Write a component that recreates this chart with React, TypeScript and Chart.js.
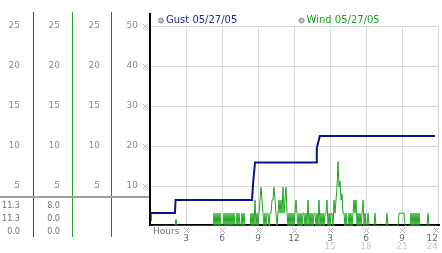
import React, { useEffect, useRef } from 'react';
import { Chart, registerables } from 'chart.js';

Chart.register(...registerables);

const FONT = '"DejaVu Sans", Verdana, sans-serif';
const NARROW_FONT = '"DejaVu Sans Condensed", "DejaVu Sans", sans-serif';

const gustLabel = 'Gust 05/27/05';
const windLabel = 'Wind 05/27/05';

// Gust (step line), hours since midnight
const gustHours = [0, 0.05, 2.08, 2.13, 8.5, 8.6, 8.75, 13.85, 13.9, 14.15, 23.75];
const gustValues = [1.5, 3.25, 3.25, 6.5, 6.5, 11, 15.9, 15.9, 19.5, 22.5, 22.5];

// Wind samples, one every 5 minutes starting at 00:05
const windStepMinutes = 5;
const windValues = [
  0, 0, 0, 0, 0, 0, 0, 0, 0, 0, 0, 0, 0, 0, 0, 0, 0, 0, 0, 0, 0, 0, 0,
  0, 0, 1.7, 0, 0, 0, 0, 0, 0, 0, 0, 0, 0, 0, 0, 0, 0, 0, 0, 0, 0, 0, 0, 0,
  0, 0, 0, 0, 0, 0, 0, 0, 0, 0, 0, 0, 0, 0, 0, 0, 3.2, 0, 3.2, 0, 3.2, 0, 3.2, 0,
  0, 0, 3.2, 0, 3.2, 0, 3.2, 0, 3.2, 0, 3.2, 0, 3.2, 0, 0, 3.2, 0, 3.2, 0, 0, 3.2, 0, 3.2, 0,
  0, 0, 0, 0, 0, 3.2, 0, 3.2, 0, 6.5, 0, 3.2, 0, 3.2, 6.5, 9.7, 6.5, 3.2, 0, 3.2, 0, 3.2, 3.2, 0,
  3.2, 3.2, 6.5, 6.5, 9.7, 6.5, 3.2, 0, 3.2, 6.5, 3.2, 6.5, 3.2, 9.7, 3.2, 6.5, 9.7, 3.2, 0, 3.2, 0, 3.2, 0, 3.2,
  0, 3.2, 6.5, 3.2, 0, 3.2, 0, 3.2, 0, 3.2, 3.2, 0, 3.2, 0, 6.5, 0, 3.2, 0, 3.2, 0, 3.2, 3.2, 0, 3.2,
  0, 6.5, 0, 3.2, 0, 3.2, 0, 3.2, 3.2, 6.5, 0, 3.2, 0, 3.2, 3.2, 0, 6.5, 3.2, 6.5, 9.7, 16.1, 9.7, 11.3, 6.5,
  8.0, 3.2, 3.2, 0, 3.2, 0, 0, 3.2, 0, 3.2, 0, 3.2, 6.5, 3.2, 6.5, 0, 3.2, 0, 3.2, 0, 3.2, 6.5, 0, 3.2,
  0, 0, 3.2, 0, 0, 0, 0, 0, 0, 3.2, 0, 0, 0, 0, 0, 0, 0, 0, 0, 0, 0, 3.2, 0, 0,
  0, 0, 0, 0, 0, 0, 0, 0, 0, 3.2, 3.2, 3.2, 3.2, 3.2, 3.2, 0, 0, 0, 0, 0, 0, 3.2, 0, 3.2,
  0, 3.2, 0, 3.2, 0, 3.2, 0, 0, 0, 0, 0, 0, 0, 0, 3.2, 0, 0, 0, 0, 0, 0, 0, 0, 0,
];

const mainTicks = [10, 20, 30, 40, 50];
const sideTicks = [5, 10, 15, 20, 25];
const xTickHours = [3, 6, 9, 12, 15, 18, 21, 24];
const xTickLabels = ['3', '6', '9', '12', '3', '6', '9', '12'];
const xTickLabels2 = ['', '', '', '', '15', '18', '21', '24'];
const xAxisTitle = 'Hours';

const gustReadout = ['11.3', '11.3', '0.0'];
const windReadout = ['8.0', '0.0', '0.0'];

const GUST_COLOR = '#10108a';
const WIND_COLOR = '#22a622';

const decorPlugin = {
  id: 'decor',
  beforeDatasetsDraw(chart: any) {
    const ctx = chart.ctx;
    const ca = chart.chartArea;
    ctx.save();
    ctx.fillStyle = '#000';
    ctx.fillRect(ca.left - 1, ca.bottom - 2, ca.right - ca.left + 3, 2);
    ctx.restore();
  },
  afterDraw(chart: any) {
    const ctx = chart.ctx;
    const ca = chart.chartArea;
    const s = chart.scales;
    ctx.save();
    // side axis lines
    const side: [string, string][] = [
      ['yGust', '#2442b4'],
      ['yWind', '#2ea62e'],
      ['yRed', '#c42a2a'],
    ];
    for (const [id, color] of side) {
      const sc = s[id];
      const x = Math.round(sc.right) - 0.5;
      ctx.strokeStyle = color;
      ctx.lineWidth = 1;
      ctx.beginPath();
      ctx.moveTo(x, ca.top - 14);
      ctx.lineTo(x, ca.bottom + 11);
      ctx.stroke();
    }
    // gray separator
    ctx.fillStyle = '#a0a0a0';
    ctx.fillRect(0, ca.bottom - 30, ca.left - 1, 2);
    // black y axis line
    ctx.fillStyle = '#000';
    ctx.fillRect(ca.left - 1, ca.top - 13, 2, ca.bottom - ca.top + 13);

    // tick marks
    const mark = (cx: number, cy: number) => {
      ctx.fillStyle = '#b0b0b0';
      const pts = [[-2, -2], [2, -2], [-1, -1], [1, -1], [0, 0], [-1, 1], [1, 1], [-2, 2], [2, 2]];
      for (const [dx, dy] of pts) ctx.fillRect(Math.round(cx) + dx, Math.round(cy) + dy, 1, 1);
    };
    for (const v of mainTicks) mark(ca.left - 5, s.y.getPixelForValue(v));
    for (const h of xTickHours) mark(Math.min(s.x.getPixelForValue(h), ca.right - 2), ca.bottom + 4);

    ctx.font = `9px ${FONT}`;
    ctx.textBaseline = 'middle';
    ctx.fillStyle = '#707070';
    ctx.textAlign = 'left';
    ctx.fillText(xAxisTitle, ca.left + 3, ca.bottom + 5.5);

    // readouts
    ctx.font = `9px ${NARROW_FONT}`;
    ctx.textAlign = 'right';
    const gx = Math.round(s.yGust.right) - 14;
    const wx = Math.round(s.yWind.right) - 13;
    for (let i = 0; i < gustReadout.length; i++) {
      const yy = ca.bottom - 20.5 + i * 13;
      ctx.fillText(gustReadout[i], gx, yy);
      ctx.fillText(windReadout[i], wx, yy);
    }

    // legend
    const legend: [string, string, number][] = [
      [gustLabel, '#1c2c9c', ca.left + 11],
      [windLabel, '#22a022', ca.left + 151.5],
    ];
    ctx.font = `10px ${FONT}`;
    ctx.textAlign = 'left';
    for (const [label, color, cx] of legend) {
      const cy = ca.top - 5.5;
      ctx.beginPath();
      ctx.arc(cx, cy, 2.5, 0, Math.PI * 2);
      ctx.fillStyle = '#c4c4c4';
      ctx.fill();
      ctx.strokeStyle = '#8a8a8a';
      ctx.lineWidth = 1;
      ctx.stroke();
      ctx.fillStyle = color;
      ctx.fillText(label, cx + 5, cy);
    }
    ctx.restore();
  },
};

export default function App() {
  const ref = useRef<HTMLCanvasElement>(null);

  useEffect(() => {
    document.body.style.margin = '0';
    const canvas = ref.current!;
    const gustData = gustHours.map((h, i) => ({ x: h, y: gustValues[i] }));
    const windData = windValues.map((v, i) => ({ x: ((i + 1) * windStepMinutes) / 60, y: v }));
    const tickFont = { family: FONT, size: 9 };

    const sideAxis = (weight: number, width: number, pad: number) => ({
      type: 'linear',
      position: 'left',
      weight,
      min: 0,
      max: 25,
      grid: { display: false, drawTicks: false },
      border: { display: false },
      ticks: {
        stepSize: 5,
        padding: pad,
        color: '#8a8a8a',
        font: tickFont,
        callback: (v: number) => (sideTicks.includes(v) ? String(v) : ''),
      },
      afterFit: (sc: any) => {
        sc.width = width;
      },
    });

    const chart = new Chart(canvas, {
      type: 'line',
      data: {
        datasets: [
          {
            label: gustLabel,
            data: gustData,
            borderColor: GUST_COLOR,
            borderWidth: 2,
            pointRadius: 0,
            tension: 0,
            yAxisID: 'y',
            xAxisID: 'x',
          },
          {
            label: windLabel,
            data: windData,
            borderColor: WIND_COLOR,
            borderWidth: 1,
            pointRadius: 0,
            tension: 0,
            yAxisID: 'y',
            xAxisID: 'x',
          },
        ],
      },
      options: {
        animation: false,
        responsive: false,
        devicePixelRatio: 1,
        events: [],
        layout: { padding: { top: 26, right: 4, bottom: 0, left: 0 } },
        plugins: { legend: { display: false }, tooltip: { enabled: false } },
        scales: {
          y: {
            type: 'linear',
            position: 'left',
            weight: 0,
            min: 0,
            max: 50,
            grid: {
              color: (c: any) => (c.tick && c.tick.value === 0 ? 'rgba(0,0,0,0)' : '#d9d9d9'),
              drawTicks: false,
            },
            border: { display: false },
            ticks: {
              stepSize: 10,
              padding: 12,
              color: '#8a8a8a',
              font: tickFont,
              callback: (v: number) => (mainTicks.includes(v) ? String(v) : ''),
            },
            afterFit: (sc: any) => {
              sc.width = 38;
            },
          },
          yRed: sideAxis(1, 39, 12),
          yWind: sideAxis(2, 39, 13),
          yGust: sideAxis(3, 34, 14),
          x: {
            type: 'linear',
            position: 'bottom',
            weight: 0,
            min: 0,
            max: 24,
            grid: {
              color: (c: any) => (c.tick && c.tick.value === 0 ? 'rgba(0,0,0,0)' : '#d9d9d9'),
              drawTicks: false,
            },
            border: { display: false },
            ticks: {
              stepSize: 3,
              autoSkip: false,
              maxRotation: 0,
              align: 'inner',
              padding: 7,
              color: '#6a6a6a',
              font: tickFont,
              callback: (v: number) => {
                const k = xTickHours.indexOf(v);
                return k >= 0 ? xTickLabels[k] : '';
              },
            },
            afterFit: (sc: any) => {
              sc.height = 15;
              sc.paddingLeft = 0;
              sc.paddingRight = 0;
            },
          },
          x2: {
            type: 'linear',
            position: 'bottom',
            weight: 1,
            min: 0,
            max: 24,
            grid: { display: false, drawTicks: false },
            border: { display: false },
            ticks: {
              stepSize: 3,
              autoSkip: false,
              maxRotation: 0,
              align: 'inner',
              padding: 0,
              color: '#c8c8c8',
              font: tickFont,
              callback: (v: number) => {
                const k = xTickHours.indexOf(v);
                return k >= 0 ? xTickLabels2[k] : '';
              },
            },
            afterFit: (sc: any) => {
              sc.height = 12;
              sc.paddingLeft = 0;
              sc.paddingRight = 0;
            },
          },
        },
      } as any,
      plugins: [decorPlugin],
    });
    return () => chart.destroy();
  }, []);

  return (
    <div style={{ width: 442, height: 253, background: '#fff' }}>
      <canvas ref={ref} width={442} height={253} style={{ display: 'block' }} />
    </div>
  );
}
